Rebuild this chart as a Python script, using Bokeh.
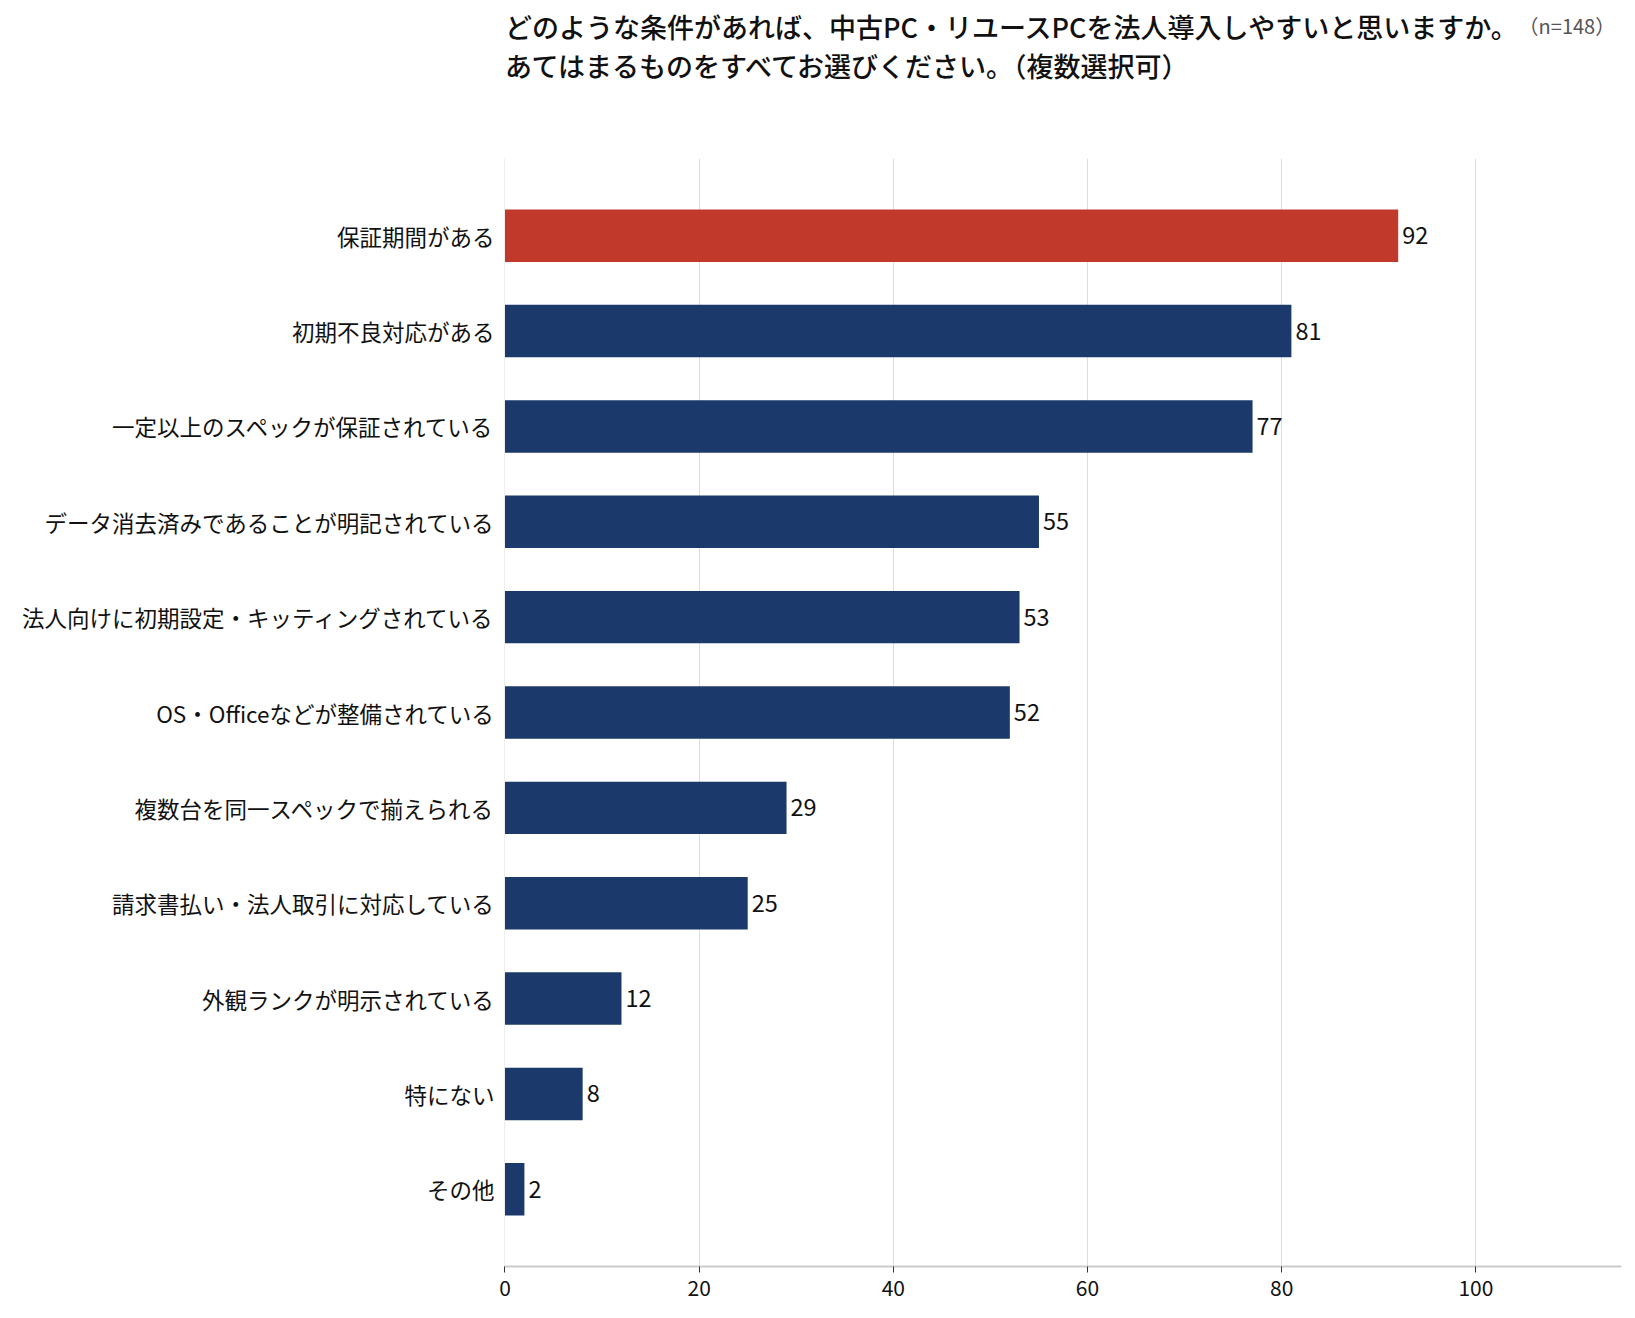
from bokeh.plotting import figure
from bokeh.models import Range1d, FixedTicker, ColumnDataSource
from bokeh.layouts import column
from bokeh.core.properties import value
from bokeh.embed import file_html
from bokeh.resources import INLINE

categories = [
    "保証期間がある",
    "初期不良対応がある",
    "一定以上のスペックが保証されている",
    "データ消去済みであることが明記されている",
    "法人向けに初期設定・キッティングされている",
    "OS・Officeなどが整備されている",
    "複数台を同一スペックで揃えられる",
    "請求書払い・法人取引に対応している",
    "外観ランクが明示されている",
    "特にない",
    "その他",
]
counts = [92, 81, 77, 55, 53, 52, 29, 25, 12, 8, 2]
x_ticks = [0, 20, 40, 60, 80, 100]
title_line1 = "どのような条件があれば、中古PC・リユースPCを法人導入しやすいと思いますか。"
title_line2 = "あてはまるものをすべてお選びください。（複数選択可）"
sample_note = "（n=148）"

FONT = "Noto Sans CJK JP"
TITLE_FONT = "'Noto Sans CJK JP Medium', 'Noto Sans CJK JP'"
RED = "#c0392b"
BLUE = "#1b3a6b"

W = 1627
HEAD_H = 158
MAIN_H = 1152

x_range = Range1d(-0.05, 115)

# ---------- header (title block), frame aligned with the chart frame ----------
h = figure(width=W, height=HEAD_H, output_backend="svg", toolbar_location=None,
           title_location=None, x_axis_location=None, y_axis_location=None,
           x_range=x_range, y_range=Range1d(HEAD_H, 0),
           min_border_left=504, min_border_right=6, min_border_top=0, min_border_bottom=0)
h.outline_line_color = None
h.grid.visible = False
h.background_fill_color = "white"
h.border_fill_color = "white"
h.text(x=[0, 0], y=[26, 65], text=[title_line1, title_line2],
       text_font=value(TITLE_FONT), text_font_size="27px", text_baseline="middle",
       text_align="left", text_color="#111111")
h.text(x=[114.35], y=[25], text=[sample_note], text_font=value(FONT),
       text_font_size="20px", text_baseline="middle", text_align="right",
       text_color="#555555")

# ---------- main chart ----------
idx = list(range(len(categories)))
colors = [RED if i == 0 else BLUE for i in idx]
src = ColumnDataSource(dict(y=idx, v=counts, c=colors, t=[str(v) for v in counts]))

p = figure(width=W, height=MAIN_H, output_backend="svg", toolbar_location=None,
           title_location=None,
           x_range=x_range, y_range=Range1d(10.81, -0.81),
           min_border_left=504, min_border_right=6, min_border_top=0,
           min_border_bottom=44)
p.outline_line_color = None
p.background_fill_color = "white"
p.border_fill_color = "white"

p.hbar(y="y", right="v", left=0, height=0.55, fill_color="c", line_color=None, source=src)
p.text(x="v", y="y", text="t", source=src, x_offset=4, text_baseline="middle",
       text_align="left", text_font=value(FONT), text_font_size="23.5px", text_color="#111111")

p.xaxis.ticker = FixedTicker(ticks=x_ticks)
p.xaxis.axis_line_color = "#cccccc"
p.xaxis.axis_line_width = 2
p.xaxis.major_tick_line_color = "#333333"
p.xaxis.major_tick_in = 0
p.xaxis.major_tick_out = 6
p.xaxis.minor_tick_line_color = None
p.xaxis.major_label_text_font = FONT
p.xaxis.major_label_text_font_size = "21px"
p.xaxis.major_label_text_color = "#111111"
p.xaxis.major_label_standoff = 7

p.xgrid.ticker = FixedTicker(ticks=x_ticks)
p.xgrid.grid_line_color = "#dddddd"
p.xgrid.grid_line_width = 1
p.ygrid.grid_line_color = None

p.yaxis.ticker = FixedTicker(ticks=idx)
p.yaxis.major_label_overrides = {i: c for i, c in zip(idx, categories)}
p.yaxis.axis_line_color = None
p.yaxis.major_tick_line_color = None
p.yaxis.minor_tick_line_color = None
p.yaxis.major_label_text_font = FONT
p.yaxis.major_label_text_font_size = "22.5px"
p.yaxis.major_label_text_color = "#111111"
p.yaxis.major_label_standoff = 4

layout = column(h, p, spacing=0)
open("out.html", "w").write(file_html(layout, INLINE))
